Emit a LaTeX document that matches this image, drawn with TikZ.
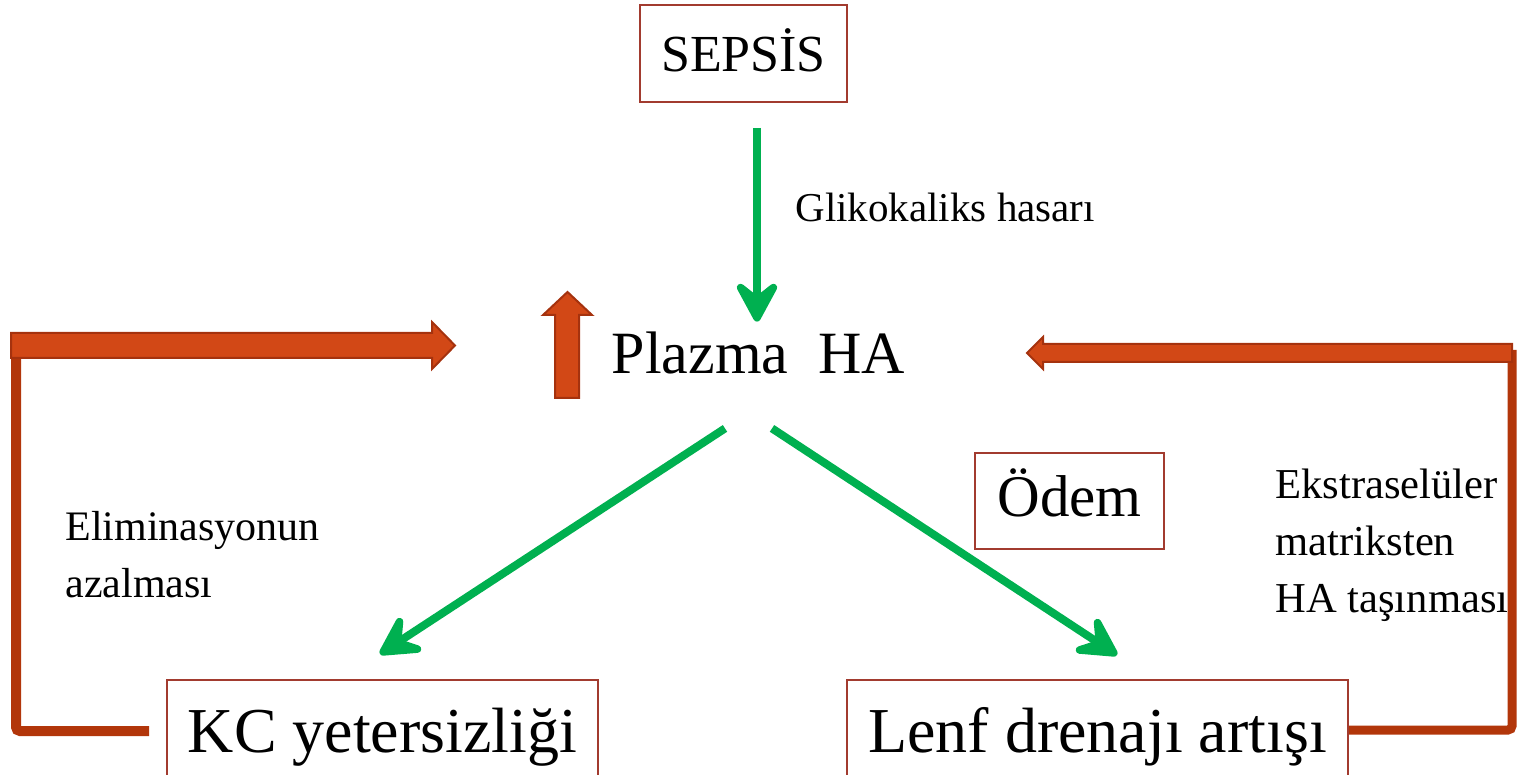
\documentclass[tikz,border=0pt]{standalone}
\usepackage{fontspec}
\setmainfont{Liberation Serif}
\usetikzlibrary{arrows.meta,calc}
\definecolor{hgreen}{HTML}{00B050}
\definecolor{boxred}{HTML}{A23B2F}
\definecolor{orfill}{HTML}{D24816}
\definecolor{ordraw}{HTML}{A5320E}
\definecolor{orline}{HTML}{B2360A}
\begin{document}
\begin{tikzpicture}[x=0.5pt,y=-0.5pt,
  boxnode/.style={draw=boxred, line width=1pt, inner sep=0pt},
  garrow/.style={draw=hgreen, line width=4pt, -{Stealth[length=26pt,width=28pt,inset=11pt,round]}},
  blockarrow/.style={fill=orfill, draw=ordraw, line width=1pt, line join=miter},
  bentline/.style={draw=orline, line width=5pt, rounded corners=2pt},
  lbl/.style={inner sep=0pt, anchor=base west}]
\useasboundingbox (0,0) rectangle (1527,775);

% boxes
\node[boxnode, minimum width=103.5pt, minimum height=48.5pt,
      font=\fontsize{26}{30}\selectfont, text height=23.4pt, text depth=4.94pt]
      (sepsis) at (743.5,53.5) {SEPSİS};
\node[boxnode, minimum width=94.5pt, minimum height=48pt,
      font=\fontsize{29.5}{34}\selectfont, text height=23.6pt, text depth=7.67pt]
      (odem) at (1069.5,501) {Ödem};
\node[boxnode, minimum width=215.5pt, minimum height=48pt,
      font=\fontsize{32}{38}\selectfont, text height=30.4pt, text depth=6.4pt]
      (kc) at (382.5,728) {KC yetersizliği};
\node[boxnode, minimum width=250.5pt, minimum height=48pt,
      font=\fontsize{32}{38}\selectfont, text height=30.4pt, text depth=6.4pt]
      (lenf) at (1097.5,728) {Lenf drenajı artışı};

% central text
\node[inner sep=0pt, anchor=base, font=\fontsize{30}{36}\selectfont,
      text height=20.5pt, text depth=6.5pt] (plazma) at (758.5,373) {Plazma\ \ HA};

% labels
\node[lbl, font=\fontsize{20.5}{24}\selectfont] (glik) at (795,222) {Glikokaliks hasarı};
\node[lbl, font=\fontsize{21}{28.5}\selectfont] (elim) at (65,540)
  {\begin{tabular}[t]{@{}l@{}}Eliminasyonun\\azalması\end{tabular}};
\node[lbl, font=\fontsize{21.3}{28.5}\selectfont] (ekstra) at (1275,498)
  {\begin{tabular}[t]{@{}l@{}}Ekstraselüler\\matriksten\\HA taşınması\end{tabular}};

% green arrows
\draw[garrow] ([xshift=6.75pt,yshift=-12.5pt]sepsis.south) -- ([xshift=-0.75pt,yshift=5pt]plazma.north);
\draw[garrow] ([xshift=-16.75pt,yshift=-21pt]plazma.south) -- ([xshift=-1.25pt,yshift=12.5pt]kc.north);
\draw[garrow] ([xshift=6.75pt,yshift=-21pt]plazma.south) -- ([xshift=9.75pt,yshift=12pt]lenf.north);

% left feedback connector
\draw[bentline] ([xshift=-8.5pt,yshift=-1.5pt]kc.west) -| (16,340);
\filldraw[blockarrow] (11,333) -- (432,333) -- (432,322) -- (455,345.5) -- (432,369) -- (432,358) -- (11,358) -- cycle;

% right feedback connector
\draw[bentline, line width=4.5pt] ([yshift=-1pt]lenf.east) -| (1512,350);
\filldraw[blockarrow] (1512,344) -- (1043,344) -- (1043,337) -- (1027,353) -- (1043,369) -- (1043,362) -- (1512,362) -- cycle;

% up arrow
\filldraw[blockarrow] (555,398) -- (555,315) -- (543,315) -- (567.5,292) -- (592,315) -- (579,315) -- (579,398) -- cycle;
\end{tikzpicture}
\end{document}
